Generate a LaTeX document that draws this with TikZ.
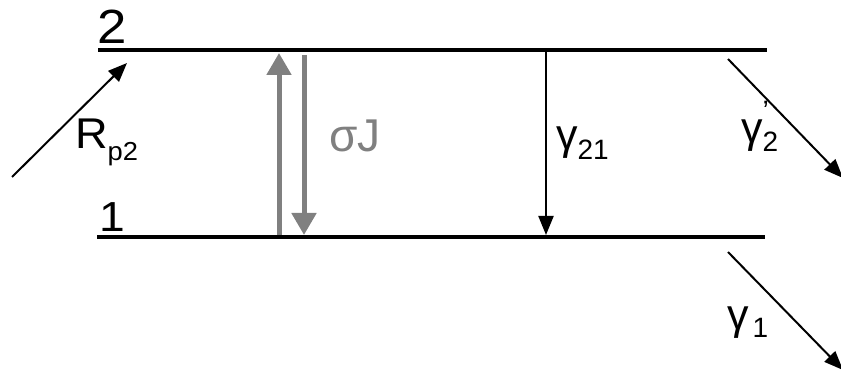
\documentclass[tikz,border=0pt]{standalone}
\usepackage{fontspec}
\usepackage{graphicx}
\setmainfont{Liberation Sans}
\usetikzlibrary{arrows.meta}
\definecolor{arrgray}{RGB}{128,128,128}
\newcommand{\fs}[1]{\fontsize{#1}{#1}\selectfont}
\newcommand{\lowsub}[3]{\raisebox{-#1pt}{\fs{#2}#3}}
\tikzset{
  level/.style={line width=4pt},
  blackarrow/.style={line width=2pt,-{Triangle[width=15pt,length=19pt]}},
  grayarrow/.style={line width=5pt,draw=arrgray,-{Triangle[width=24pt,length=22pt]}},
  lbl/.style={anchor=base west,inner sep=0pt,outer sep=0pt},
}
\begin{document}
\begin{tikzpicture}[x=1pt,y=-1pt]
\useasboundingbox (0,0) rectangle (841,371);
% levels
\coordinate (u1) at (98,50);
\coordinate (u2) at (767,50);
\coordinate (l1) at (97,237);
\coordinate (l2) at (765,237);
\draw[level] (u1) -- (u2);
\draw[level] (l1) -- (l2);
\node[lbl] (n2) at (97,44) {\scalebox{1.1}[1]{\fs{48}2}};
\node[lbl] (n1) at (99,232) {\scalebox{1.1}[1]{\fs{42}1}};
% pump
\coordinate (ra) at (12,177);
\coordinate (rb) at (127,63);
\draw[blackarrow] (ra) -- (rb);
\node[lbl] (rp) at (75,149) {\scalebox{1.05}[1]{\fs{43}R\lowsub{12}{26}{p2}}};
% stimulated
\coordinate (ga1) at (279,235);
\coordinate (ga2) at (279,53);
\coordinate (gb1) at (304,55);
\coordinate (gb2) at (304,235);
\draw[grayarrow] (ga1) -- (ga2);
\draw[grayarrow] (gb1) -- (gb2);
\node[lbl,text=arrgray] (sj) at (329,152) {\fs{46}σJ};
% gamma21
\coordinate (ca) at (546,52);
\coordinate (cb) at (546,235);
\draw[blackarrow] (ca) -- (cb);
\node[lbl] (g21) at (556,150) {\fs{43}γ\lowsub{10}{28}{21}};
% gamma'2
\coordinate (da) at (728,59);
\coordinate (db) at (843,178);
\draw[blackarrow] (da) -- (db);
\node[lbl] (g2) at (741,143) {\fs{43}γ\rlap{\raisebox{22pt}{\fs{28}'}}\lowsub{9}{28}{2}};
% gamma1
\coordinate (ea) at (728,252);
\coordinate (eb) at (843,370);
\draw[blackarrow] (ea) -- (eb);
\node[lbl] (g1) at (727,330) {\fs{43}γ\hspace{4pt}\lowsub{8}{28}{1}};
\end{tikzpicture}
\end{document}
